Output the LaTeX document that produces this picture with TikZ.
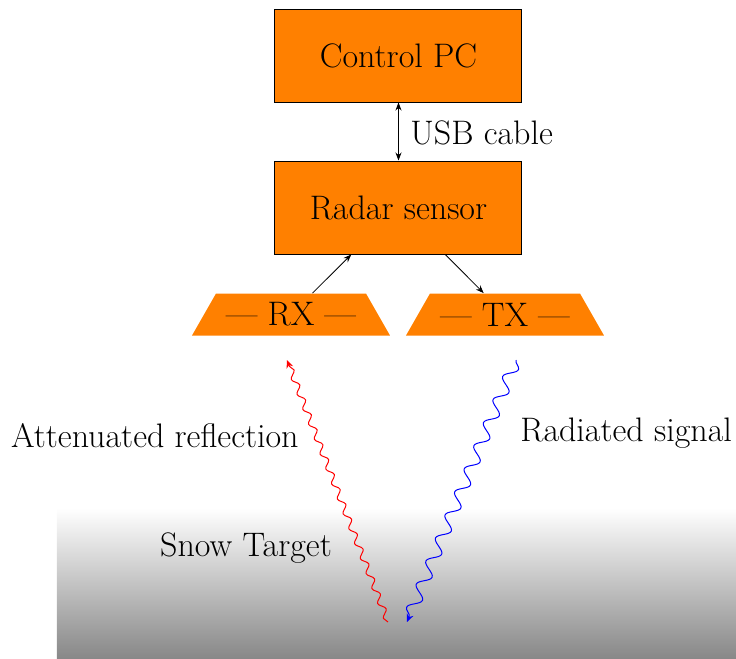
\documentclass[tikz,border=0pt]{standalone}
\usetikzlibrary{decorations.pathmorphing,arrows.meta}

\tikzset{
  lbl/.style={font=\fontsize{17}{20.4}\selectfont, inner sep=0pt},
  block/.style={lbl, draw=black, line width=0.5pt, fill=orange,
                minimum width=123.5pt, minimum height=46.5pt},
  % rectangular node whose interior is filled as a trapezium
  antenna/.style={lbl, minimum width=99pt, minimum height=21pt,
    path picture={\fill[orange]
      (path picture bounding box.south west) --
      (path picture bounding box.south east) --
      ([xshift=-12pt]path picture bounding box.north east) --
      ([xshift=12pt]path picture bounding box.north west) -- cycle;}},
  link/.style={-{Stealth[length=4pt,width=3pt]}, line width=0.4pt},
  wave/.style={decorate, line width=0.5pt,
               -{Stealth[length=4pt,width=3.5pt]}},
}

\begin{document}
\begin{tikzpicture}[x=0.5pt, y=-0.5pt]
  \useasboundingbox (0,0) rectangle (736,659);

  % snow ground with vertical gradient
  \shade[top color=white, bottom color=black!47] (57,508) rectangle (736,659);

  % blocks
  \node[block] (pc) at (398.5,55.5) {Control PC};
  \node[block] (radar) at (398.5,207.5) {Radar sensor};
  \node[antenna] (rx) at (291,314.5) {--- RX ---};
  \node[antenna] (tx) at (505,314.5) {--- TX ---};

  % connections
  \draw[link, {Stealth[length=4pt,width=3pt]}-{Stealth[length=4pt,width=3pt]}] (pc) -- (radar);
  \node[lbl, anchor=west] (usb) at (410,133) {USB cable};
  \draw[link] (rx) -- (radar);
  \draw[link] (radar) -- (tx);

  % signal paths
  \coordinate (rxbeam) at (287,360);
  \coordinate (txbeam) at (516,360);
  \coordinate (refl) at (388,622);
  \coordinate (inc) at (407,622);
  \draw[wave, red, decoration={snake, amplitude=1.5pt, segment length=8pt, post length=2pt}]
    (refl) -- (rxbeam);
  \draw[wave, blue, decoration={snake, amplitude=3pt, segment length=12.5pt, post length=2pt}]
    (txbeam) -- (inc);

  % labels
  \node[lbl, anchor=east] (att) at (299,436) {Attenuated reflection};
  \node[lbl, anchor=west] (rad) at (520,433) {Radiated signal};
  \node[lbl] (snow) at (246,548) {Snow Target};
\end{tikzpicture}
\end{document}
